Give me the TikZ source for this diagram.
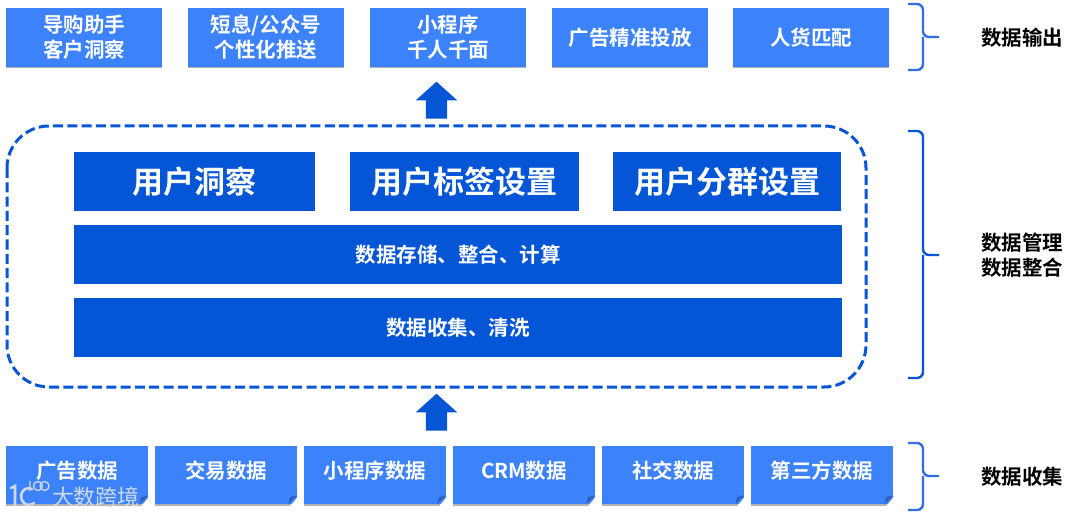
\documentclass[tikz,border=0pt]{standalone}
\usepackage{fontspec}
\setmainfont{Noto Sans CJK SC}[BoldFont={Noto Sans CJK SC Bold}]
\usetikzlibrary{shadows,shapes.arrows}
\definecolor{lightblue}{RGB}{60,130,250}
\definecolor{darkblue}{RGB}{5,85,215}
\definecolor{bracecol}{RGB}{50,110,225}
\definecolor{foldcol}{RGB}{45,95,185}
\definecolor{markcol}{RGB}{205,215,230}
\tikzset{
  shade box/.style={drop shadow={shadow xshift=0pt,shadow yshift=-1.5pt,fill=black,opacity=.3}},
  outbox/.style={rectangle,fill=lightblue,text=white,font=\fontsize{20.5}{25}\selectfont\bfseries,
    minimum width=156pt,minimum height=59pt,inner sep=0pt,align=center,shade box},
  inbox/.style={outbox,minimum width=142pt,minimum height=58pt},
  corebox/.style={rectangle,fill=darkblue,text=white,font=\fontsize{31}{36}\selectfont\bfseries,
    minimum height=59pt,inner sep=0pt},
  barbox/.style={corebox,font=\fontsize{20.5}{25}\selectfont\bfseries,minimum width=768pt},
  uparrow/.style={single arrow,shape border rotate=90,fill=darkblue,text width=21pt,
    single arrow head extend=10pt,minimum height=37pt,inner sep=0pt,single arrow tip angle=96},
  sidelabel/.style={text=black,font=\fontsize{20.5}{25}\selectfont\bfseries,align=center,inner sep=0pt},
  sidebrace/.style={line width=2.4pt,rounded corners=6pt}
}
\begin{document}
\begin{tikzpicture}[x=1pt,y=-1pt]
  \useasboundingbox (0,0) rectangle (1080,516);

  \node (guide) [outbox] at (84,37.5)  {导购助手\\客户洞察};
  \node (sms)   [outbox] at (266,37.5) {短息/公众号\\个性化推送};
  \node (mini)  [outbox] at (448,37.5) {小程序\\千人千面};
  \node (ads)   [outbox] at (630,37.5) {广告精准投放};
  \node (match) [outbox] at (811,37.5) {人货匹配};

  \node (uparrowa) [uparrow] at (436.5,105) {};

  \draw [darkblue,line width=3pt,dash pattern=on 10pt off 4.3pt,rounded corners=42pt]
    (7,126) rectangle (866,387);

  \node (insight) [corebox,minimum width=241pt] at (194.5,181.5) {用户洞察};
  \node (tags)    [corebox,minimum width=229pt] at (464.5,181.5) {用户标签设置};
  \node (groups)  [corebox,minimum width=228pt] at (727,181.5)   {用户分群设置};
  \node (store)   [barbox] at (458,254.5) {数据存储、整合、计算};
  \node (clean)   [barbox] at (458,327.5) {数据收集、清洗};

  \node (uparrowb) [uparrow] at (436.5,417) {};

  \node (d1) [inbox] at (77,475)  {\raisebox{10pt}{广告数据}};
  \node (d2) [inbox] at (226,475) {\raisebox{10pt}{交易数据}};
  \node (d3) [inbox] at (375,475) {\raisebox{10pt}{小程序数据}};
  \node (d4) [inbox] at (524,475) {\raisebox{10pt}{CRM数据}};
  \node (d5) [inbox] at (673,475) {\raisebox{10pt}{社交数据}};
  \node (d6) [inbox] at (822,475) {\raisebox{10pt}{第三方数据}};

  % folded corners
  \foreach \n in {d1,d2,d3,d4,d5,d6} {
    \fill [white] ([xshift=-8pt,yshift=-3pt]\n.south east) -- ([yshift=9pt,xshift=2pt]\n.south east)
      -- ([xshift=2pt,yshift=-4pt]\n.south east) -- cycle;
    \fill [foldcol] ([xshift=-9pt]\n.south east) -- ([yshift=9pt]\n.south east)
      -- ([xshift=-7pt,yshift=7pt]\n.south east) -- cycle;
  }

  \draw [sidebrace,bracecol] (908,4) -- (923,4) -- (923,37) -- (939,37) (923,37) -- (923,70) -- (908,70);
  \draw [sidebrace,darkblue] (908,131) -- (923,131) -- (923,255) -- (939,255) (923,255) -- (923,378) -- (908,378);
  \draw [sidebrace,bracecol] (908,443) -- (923,443) -- (923,476) -- (939,476) (923,476) -- (923,510) -- (908,510);

  \node (outlabel)  [sidelabel] at (1022,38)  {数据输出};
  \node (mgmtlabel) [sidelabel] at (1022,255) {数据管理\\数据整合};
  \node (inlabel)   [sidelabel] at (1022,477) {数据收集};

  % watermark
  \node (mark) [text=markcol,font=\fontsize{22}{26}\selectfont,inner sep=0pt] at (96,497) {大数跨境};
  \draw [markcol,line width=2.6pt,line cap=round] (11,488) -- (15,486) -- (15,505)
    (32,489) .. controls (22,485) and (18,498) .. (24,503) .. controls (27,506) and (31,505) .. (34,503);
  \draw [markcol,line width=1.3pt] (30,481) -- (30,491) (38,486) circle (4.5pt) (44.5,486) circle (4.5pt);
\end{tikzpicture}
\end{document}
